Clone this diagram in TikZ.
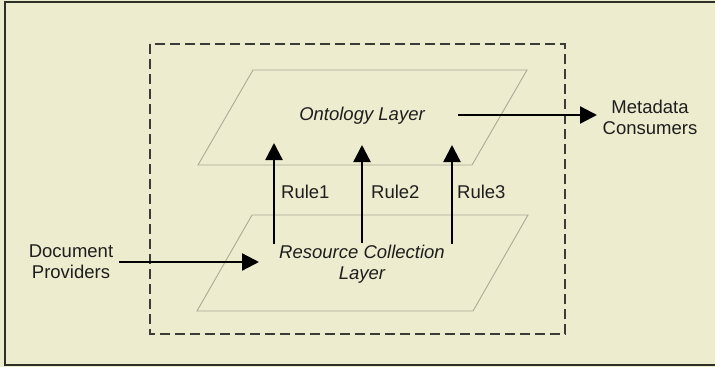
\documentclass[tikz,border=0pt]{standalone}
\usepackage{fontspec}
\setmainfont{Liberation Sans}
\usetikzlibrary{arrows.meta}
\definecolor{bgcream}{RGB}{237,236,206}
\definecolor{framedark}{RGB}{45,48,38}
\definecolor{layerline}{RGB}{170,170,150}
\definecolor{dashgray}{RGB}{60,60,55}
\definecolor{txt}{RGB}{30,30,30}
\tikzset{
  lbl/.style={font=\fontsize{18.5}{21}\selectfont, text=txt, align=center, inner sep=0pt},
  ital/.style={lbl, font=\fontsize{18.5}{21}\selectfont\itshape},
  rulelbl/.style={lbl, anchor=west},
  layer/.style={draw=layerline, line width=0.9pt},
  arr/.style={draw=black, line width=2.3pt, -{Triangle[length=17pt,width=17pt]}},
  boundary/.style={draw=dashgray, line width=1.6pt, dash pattern=on 10pt off 5pt}
}
\begin{document}
\begin{tikzpicture}[x=1pt,y=-1pt]
\useasboundingbox (0,0) rectangle (715,367);
\clip (0,0) rectangle (715,367);
\fill[bgcream] (0,0) rectangle (715,367);
\draw[framedark, line width=2.6pt] (5,2) rectangle (730,365);
% dashed boundary
\draw[boundary] (150,44) rectangle (565,334);
% layers
\draw[layer] (253,70) -- (527,70) -- (472,165) -- (198,165) -- cycle;
\draw[layer] (252,215) -- (528,215) -- (473,311) -- (197,311) -- cycle;
% texts
\node[ital] (ont) at (362,116) {Ontology Layer};
\node[ital] (rcl) at (362,264) {Resource Collection\\Layer};
\node[lbl] (dp) at (71,262) {Document\\Providers};
\node[lbl] (mc) at (650,117) {Metadata\\Consumers};
\node[rulelbl] (r1) at (281,192) {Rule1};
\node[rulelbl] (r2) at (371,192) {Rule2};
\node[rulelbl] (r3) at (457,192) {Rule3};
% arrow endpoints
\coordinate (dpS) at (119,262);
\coordinate (dpT) at (259,262);
\coordinate (mcS) at (458,115);
\coordinate (mcT) at (597,115);
\coordinate (a1S) at (274,244);
\coordinate (a1T) at (274,143);
\coordinate (a2S) at (362,243);
\coordinate (a2T) at (362,145);
\coordinate (a3S) at (452,244);
\coordinate (a3T) at (452,145);
% arrows
\draw[arr] (dpS) -- (dpT);
\draw[arr] (mcS) -- (mcT);
\draw[arr] (a1S) -- (a1T);
\draw[arr] (a2S) -- (a2T);
\draw[arr] (a3S) -- (a3T);
\end{tikzpicture}
\end{document}
